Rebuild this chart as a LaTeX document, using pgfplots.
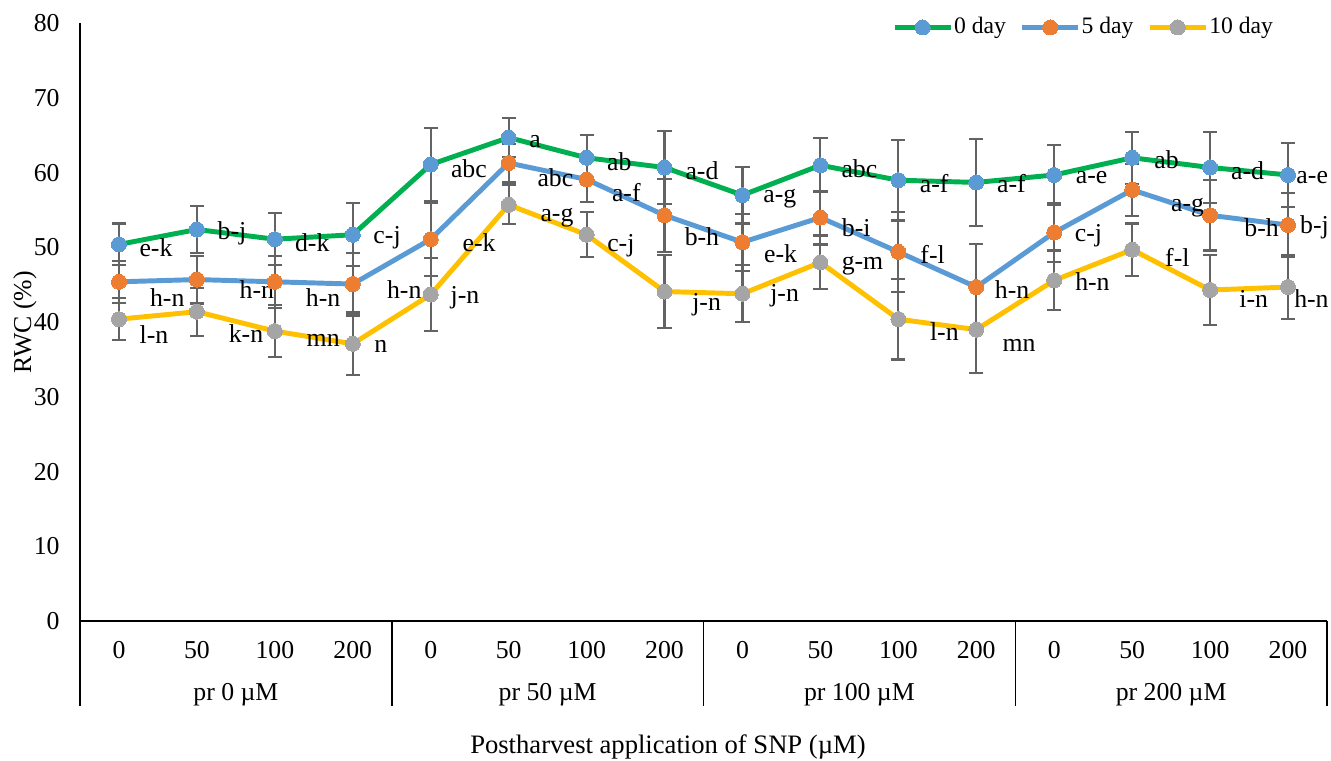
\documentclass[12pt,border=0pt]{standalone}
\usepackage{fontspec}
\setmainfont{Liberation Serif}
\usepackage{pgfplots}
\pgfplotsset{compat=1.18}
\usepackage{pgfplotstable}

\definecolor{lgreen}{HTML}{00B050}
\definecolor{lblue}{HTML}{5B9BD5}
\definecolor{lorange}{HTML}{ED7D31}
\definecolor{lyellow}{HTML}{FFC000}
\definecolor{lgray}{HTML}{A5A5A5}
\definecolor{errgray}{HTML}{636363}

% x = treatment index, y = RWC, err = error bar
\pgfplotstableread{
x y err
0 50.4 2.8
1 52.4 3.2
2 51.1 3.5
3 51.7 4.2
4 61.1 4.9
5 64.7 2.6
6 62.0 3.0
7 60.7 4.9
8 57.0 3.8
9 61.0 3.6
10 59.0 5.4
11 58.7 5.8
12 59.7 4.0
13 62.0 3.5
14 60.7 4.7
15 59.7 4.3
}\dayzero

\pgfplotstableread{
x y err
0 45.4 2.8
1 45.7 3.2
2 45.4 3.5
3 45.1 4.2
4 51.1 4.9
5 61.3 2.6
6 59.1 3.0
7 54.3 4.9
8 50.7 3.8
9 54.0 3.6
10 49.4 5.4
11 44.7 5.8
12 52.0 4.0
13 57.7 3.5
14 54.3 4.7
15 53.0 4.3
}\dayfive

\pgfplotstableread{
x y err
0 40.4 2.8
1 41.4 3.2
2 38.8 3.5
3 37.1 4.2
4 43.7 4.9
5 55.7 2.6
6 51.7 3.0
7 44.1 4.9
8 43.8 3.8
9 48.0 3.6
10 40.4 5.4
11 39.0 5.8
12 45.6 4.0
13 49.7 3.5
14 44.3 4.7
15 44.7 4.3
}\dayten

\begin{document}
\begin{tikzpicture}
\begin{axis}[
    scale only axis,
    width=580.8pt, height=278.4pt,
    xmin=-0.5, xmax=15.5,
    ymin=0, ymax=80,
    axis x line*=bottom,
    axis y line*=left,
    axis line style={-, line width=0.6pt},
    xtick={0,...,15},
    xticklabels={0,50,100,200,0,50,100,200,0,50,100,200,0,50,100,200},
    ytick={0,10,...,80},
    major tick length=0pt,
    xticklabel style={anchor=base, yshift=-17.5pt},
    yticklabel style={xshift=-5.3pt},
    /pgf/number format/assume math mode=true,
    clip=false,
    legend columns=3,
    legend image code/.code={
        \draw[mark repeat=2, mark phase=2, #1]
            plot coordinates {(0pt,0pt) (13pt,0pt) (26pt,0pt)};
    },
    legend style={
        draw=none, fill=none,
        at={(0.651,0.993)}, anchor=west,
        inner sep=0pt,
        font=\fontsize{11}{13}\selectfont,
        nodes={inner sep=0.5pt},
        /tikz/every even column/.append style={column sep=6pt},
    },
    error bars/error bar style={errgray, line width=1pt},
    error bars/error mark options={errgray, mark size=3.3pt, line width=1pt, rotate=90},
]

\addplot[lgreen, line width=2.3pt, mark=*, mark size=3.5pt,
    mark options={fill=lblue, draw=lblue, line width=0pt},
    error bars/.cd, y dir=both, y explicit]
    table[x=x, y=y, y error=err] {\dayzero};
\addlegendentry{0 day}

\addplot[lblue, line width=2.3pt, mark=*, mark size=3.5pt,
    mark options={fill=lorange, draw=lorange, line width=0pt},
    error bars/.cd, y dir=both, y explicit]
    table[x=x, y=y, y error=err] {\dayfive};
\addlegendentry{5 day}

\addplot[lyellow, line width=2.3pt, mark=*, mark size=3.5pt,
    mark options={fill=lgray, draw=lgray, line width=0pt},
    error bars/.cd, y dir=both, y explicit]
    table[x=x, y=y, y error=err] {\dayten};
\addlegendentry{10 day}

% significance letters, 0 day
\node at (axis cs:0.475,49.9) {e-k};
\node at (axis cs:1.45,51.9) {b-j};
\node at (axis cs:2.48,50.6) {d-k};
\node at (axis cs:3.44,51.3) {c-j};
\node at (axis cs:4.49,60.6) {abc};
\node at (axis cs:5.34,64.2) {a};
\node at (axis cs:6.42,61.5) {ab};
\node at (axis cs:7.48,60.3) {a-d};
\node at (axis cs:8.48,56.5) {a-g};
\node at (axis cs:9.50,60.6) {abc};
\node at (axis cs:10.46,58.6) {a-f};
\node at (axis cs:11.45,58.5) {a-f};
\node at (axis cs:12.48,59.3) {a-e};
\node at (axis cs:13.44,61.7) {ab};
\node at (axis cs:14.48,60.3) {a-d};
\node at (axis cs:15.31,59.3) {a-e};
% 5 day
\node at (axis cs:0.62,43.3) {h-n};
\node at (axis cs:1.77,44.4) {h-n};
\node at (axis cs:2.62,43.3) {h-n};
\node at (axis cs:3.66,44.4) {h-n};
\node at (axis cs:4.62,50.6) {e-k};
\node at (axis cs:5.60,59.3) {abc};
\node at (axis cs:6.51,57.4) {a-f};
\node at (axis cs:7.48,51.5) {b-h};
\node at (axis cs:8.49,49.1) {e-k};
\node at (axis cs:9.46,52.6) {b-i};
\node at (axis cs:10.44,49.1) {f-l};
\node at (axis cs:11.46,44.3) {h-n};
\node at (axis cs:12.44,51.6) {c-j};
\node at (axis cs:13.71,55.3) {a-g};
\node at (axis cs:14.66,52.7) {b-h};
\node at (axis cs:15.34,52.7) {b-j};
% 10 day
\node at (axis cs:0.45,38.3) {l-n};
\node at (axis cs:1.63,38.5) {k-n};
\node at (axis cs:2.62,37.5) {mn};
\node at (axis cs:3.36,36.7) {n};
\node at (axis cs:4.44,43.3) {j-n};
\node at (axis cs:5.62,54.0) {a-g};
\node at (axis cs:6.44,50.2) {c-j};
\node at (axis cs:7.54,42.3) {j-n};
\node at (axis cs:8.54,43.6) {j-n};
\node at (axis cs:9.54,47.6) {g-m};
\node at (axis cs:10.59,38.8) {l-n};
\node at (axis cs:11.55,36.9) {mn};
\node at (axis cs:12.49,45.4) {h-n};
\node at (axis cs:13.58,48.6) {f-l};
\node at (axis cs:14.56,43.1) {i-n};
\node at (axis cs:15.30,43.1) {h-n};

% group separators and group labels under the axis
\draw[line width=0.7pt] (axis cs:-0.5,0) -- ++(0pt,-39.6pt);
\draw[line width=0.7pt] (axis cs:3.5,0) -- ++(0pt,-39.6pt);
\draw[line width=0.7pt] (axis cs:7.5,0) -- ++(0pt,-39.6pt);
\draw[line width=0.7pt] (axis cs:11.5,0) -- ++(0pt,-39.6pt);
\draw[line width=0.7pt] (axis cs:15.5,0) -- ++(0pt,-39.6pt);
\node[anchor=base] at ([yshift=-37.1pt]axis cs:1.5,0) {pr 0 µM};
\node[anchor=base] at ([yshift=-37.1pt]axis cs:5.5,0) {pr 50 µM};
\node[anchor=base] at ([yshift=-37.1pt]axis cs:9.5,0) {pr 100 µM};
\node[anchor=base] at ([yshift=-37.1pt]axis cs:13.5,0) {pr 200 µM};
\node[anchor=base, font=\fontsize{12.4}{15}\selectfont] at ([yshift=-61.5pt]rel axis cs:0.4715,0) {Postharvest application of SNP (µM)};
\node[rotate=90] at ([xshift=-25.6pt]rel axis cs:0,0.5) {RWC (\%)};

\coordinate (sw) at (rel axis cs:0,0);
\coordinate (ne) at (rel axis cs:1,1);
\end{axis}
\pgfresetboundingbox
\path[use as bounding box] ([shift={(-37.26pt,-64.74pt)}]sw) rectangle ([shift={(1.86pt,10.85pt)}]ne);
\end{tikzpicture}
\end{document}
